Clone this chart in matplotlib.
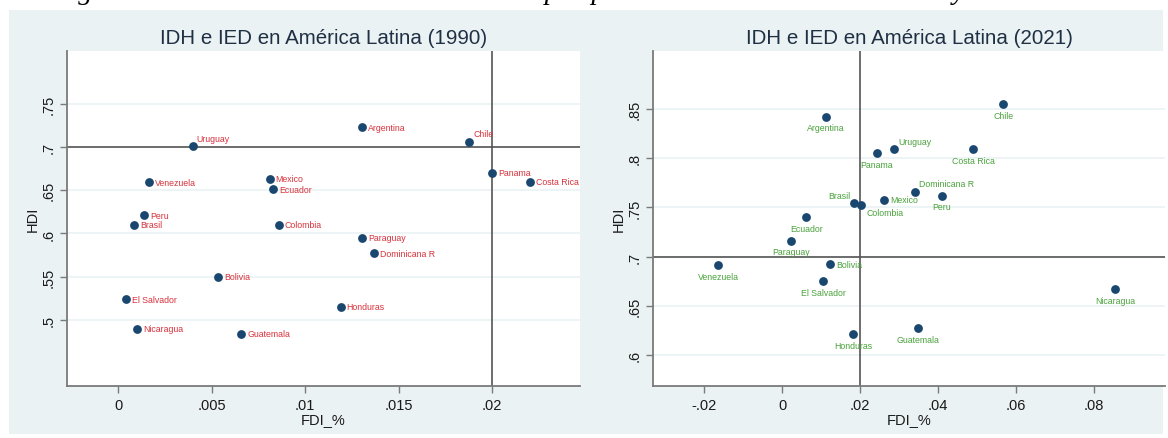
import matplotlib
matplotlib.use("Agg")
import matplotlib.pyplot as plt
from matplotlib.patches import Rectangle

plt.rcParams['font.family'] = ['Liberation Sans', 'DejaVu Sans']

# ---------------- data ----------------
countries = ["Argentina", "Brasil", "Bolivia", "Chile", "Colombia", "Costa Rica",
             "Dominicana R", "Ecuador", "El Salvador", "Guatemala", "Honduras",
             "Mexico", "Nicaragua", "Panama", "Paraguay", "Peru", "Uruguay", "Venezuela"]

fdi_1990 = [0.01305, 0.00085, 0.00537, 0.01877, 0.0086, 0.0220, 0.0137, 0.0083, 0.0004,
            0.0066, 0.0119, 0.0081, 0.0010, 0.0200, 0.01305, 0.0014, 0.0040, 0.00166]
hdi_1990 = [0.723, 0.610, 0.550, 0.706, 0.610, 0.660, 0.577, 0.651, 0.524,
            0.484, 0.515, 0.663, 0.490, 0.670, 0.595, 0.621, 0.701, 0.659]

fdi_2021 = [0.0113, 0.0185, 0.0123, 0.0567, 0.0202, 0.0490, 0.0341, 0.0062, 0.0105,
            0.0349, 0.0182, 0.0262, 0.0854, 0.0243, 0.0023, 0.0410, 0.0287, -0.0164]
hdi_2021 = [0.842, 0.754, 0.692, 0.855, 0.752, 0.809, 0.766, 0.740, 0.675,
            0.627, 0.621, 0.758, 0.667, 0.805, 0.716, 0.762, 0.809, 0.691]

xticks_1990 = [0, 0.005, 0.01, 0.015, 0.02]
xticklabels_1990 = ["0", ".005", ".01", ".015", ".02"]
yticks_1990 = [0.5, 0.55, 0.6, 0.65, 0.7, 0.75]
yticklabels_1990 = [".5", ".55", ".6", ".65", ".7", ".75"]

xticks_2021 = [-0.02, 0, 0.02, 0.04, 0.06, 0.08]
xticklabels_2021 = ["-.02", "0", ".02", ".04", ".06", ".08"]
yticks_2021 = [0.6, 0.65, 0.7, 0.75, 0.8, 0.85]
yticklabels_2021 = [".6", ".65", ".7", ".75", ".8", ".85"]

title_1990 = "IDH e IED en América Latina (1990)"
title_2021 = "IDH e IED en América Latina (2021)"
caption = "Figura N: Correlación entre el IDH e IED por países de América Latina 1990 y 2021"

# label clock positions (style)
clock_1990 = {c: 3 for c in countries}
clock_1990.update({"Uruguay": 1, "Chile": 1})
clock_2021 = {c: 6 for c in countries}
clock_2021.update({"Uruguay": 1, "Brasil": 11, "Dominicana R": 1, "Mexico": 3,
                   "Bolivia": 3, "Colombia": 4})

# ---------------- style ----------------
W, H = 1168, 439
BG = '#eaf2f3'
NAVY = '#1a476f'
RED = '#d8323c'
GREEN = '#4aa23c'
TITLE_C = '#1f3044'
AXIS_C = '#7a7a7a'
REF_C = '#555555'
offsets = {3: (6, 0, 'left'), 1: (4, 8, 'left'), 6: (0, -11, 'center'),
           11: (-4, 8, 'right'), 4: (6, -7, 'left')}

fig = plt.figure(figsize=(W / 100, H / 100), dpi=100)
fig.patch.set_facecolor('white')
fig.patches.append(Rectangle((9 / W, 1 - 435 / H), (1163 - 9) / W, (435 - 11) / H,
                             transform=fig.transFigure, facecolor=BG, edgecolor='none',
                             zorder=-5))

fig.text(53 / W, 1 + 1 / H, caption, fontsize=20.5, fontstyle='italic',
         family=['Liberation Serif', 'DejaVu Serif'], va='baseline', ha='left',
         color='black', zorder=-4)


def rect(x0, y0, x1, y1):
    return [x0 / W, 1 - y1 / H, (x1 - x0) / W, (y1 - y0) / H]


def panel(box, fdi, hdi, clocks, lab_color, xlim, ylim, xt, xtl, yt, ytl, title):
    ax = fig.add_axes(rect(*box))
    ax.set_zorder(1)
    ax.set_facecolor('white')
    ax.set_xlim(*xlim)
    ax.set_ylim(*ylim)
    for s in ('top', 'right'):
        ax.spines[s].set_visible(False)
    for s in ('left', 'bottom'):
        ax.spines[s].set_color(AXIS_C)
        ax.spines[s].set_linewidth(1.3)
    ax.set_xticks(xt)
    ax.set_xticklabels(xtl)
    ax.set_yticks(yt)
    ax.set_yticklabels(ytl, rotation=90, va='center')
    ax.tick_params(axis='both', direction='out', length=5, width=1, color=AXIS_C,
                   labelsize=10.5, labelcolor='#1a1a1a')
    ax.tick_params(axis='x', pad=4)
    ax.tick_params(axis='y', pad=3.5)
    for y in yt:
        ax.axhline(y, color=BG, lw=1.2, zorder=1)
    ax.axhline(0.7, color=REF_C, lw=1.2, zorder=2)
    ax.axvline(0.02, color=REF_C, lw=1.2, zorder=2)
    ax.scatter(fdi, hdi, s=40, color=NAVY, zorder=3, linewidths=0)
    for c, x, y in zip(countries, fdi, hdi):
        dx, dy, ha = offsets[clocks[c]]
        ax.annotate(c, (x, y), xytext=(dx, dy), textcoords='offset pixels',
                    ha=ha, va='center', fontsize=6.3, color=lab_color, zorder=4)
    ax.set_xlabel("FDI_%", fontsize=10.5, color='#1a1a1a')
    ax.set_ylabel("HDI", fontsize=10.5, color='#1a1a1a')
    hpx = box[3] - box[1]
    wpx = box[2] - box[0]
    ax.xaxis.set_label_coords(0.5, -33 / hpx)
    ax.xaxis.label.set_va('center')
    ax.yaxis.set_label_coords(-34 / wpx, 0.5)
    ax.yaxis.label.set_va('center')
    ax.text(0.5, 1 + 13 / hpx, title, transform=ax.transAxes, ha='center',
            va='center', fontsize=14.8, color=TITLE_C)
    return ax


panel((67, 52, 580, 387), fdi_1990, hdi_1990, clock_1990, RED,
      (-0.00273, 0.0247), (0.4236, 0.811),
      xticks_1990, xticklabels_1990, yticks_1990, yticklabels_1990, title_1990)
panel((653, 52, 1165, 387), fdi_2021, hdi_2021, clock_2021, GREEN,
      (-0.0331, 0.0982), (0.5685, 0.909),
      xticks_2021, xticklabels_2021, yticks_2021, yticklabels_2021, title_2021)

fig.savefig("out.png", dpi=100)
